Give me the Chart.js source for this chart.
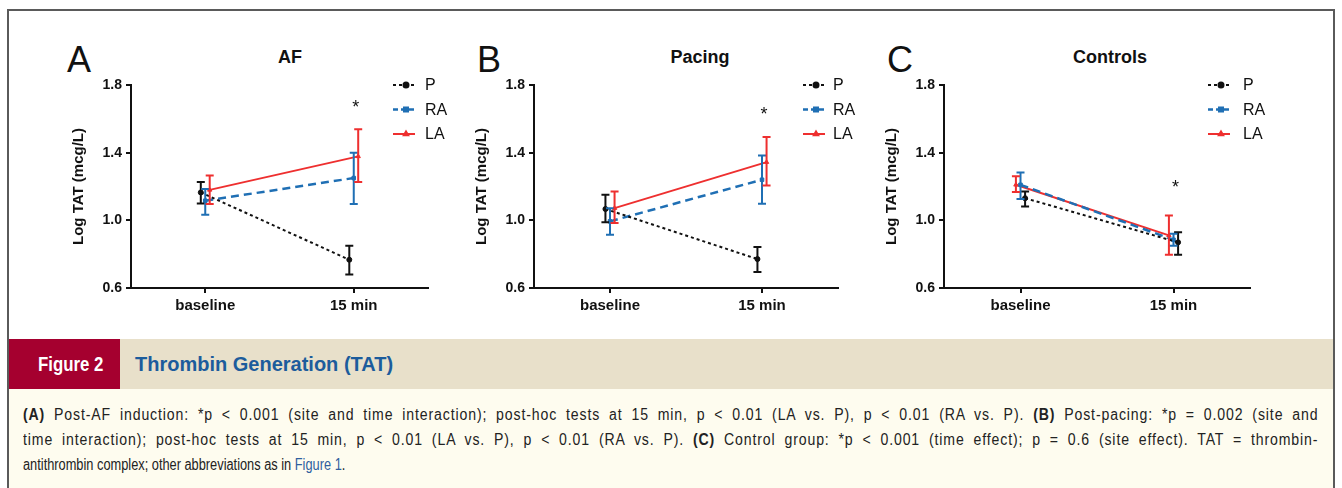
<!DOCTYPE html>
<html>
<head>
<meta charset="utf-8">
<script src="https://cdn.jsdelivr.net/npm/chart.js@4.4.1/dist/chart.umd.min.js"></script>
<style>
  body { margin:0; width:1342px; height:488px; overflow:hidden; background:#fff; position:relative;
         font-family:'Liberation Sans', Arial, sans-serif; }
  .frame { position:absolute; left:7px; top:9px; width:1328px; height:520px; border:2px solid #5a5a5a; box-sizing:border-box; }
  .letter { position:absolute; top:42px; font-size:36px; line-height:36px; color:#111; }
  .title  { position:absolute; top:48px; width:240px; text-align:center; font-weight:bold; font-size:18px; line-height:18px; color:#111; }
  canvas { position:absolute; }
  .head { position:absolute; left:9px; top:339px; width:1324px; height:50px; background:#e8e0ca;
          font-weight:bold; font-size:20px; line-height:50px; }
  .fig-no { position:absolute; left:0; top:0; width:111px; height:50px; background:#a5002f; color:#fff; }
  .fig-no span { position:absolute; left:29px; top:0; transform:scaleX(0.84); transform-origin:0 0; white-space:nowrap; }
  .fig-title { position:absolute; left:126px; top:0; color:#1c5c9c; }
  .caption { position:absolute; left:9px; top:389px; width:1324px; height:110px; background:#fefcef;
             box-sizing:border-box; padding:13px 0 0 14px; overflow:hidden;
             font-size:16px; line-height:25px; color:#222; }
  .caption div { white-space:nowrap; transform-origin:0 0; }
  .caption .just { width:1472px; transform:scaleX(0.88); text-align:justify; text-align-last:justify; letter-spacing:1px; }
  .caption .last { width:1600px; transform:scaleX(0.80); }
  .link { color:#2f5f9f; }
</style>
</head>
<body>
<div class="frame"></div>

<div class="letter" style="left:67px">A</div>
<div class="letter" style="left:477px">B</div>
<div class="letter" style="left:887px">C</div>
<div class="title" style="left:170px">AF</div>
<div class="title" style="left:580px">Pacing</div>
<div class="title" style="left:990px">Controls</div>

<canvas id="chartAF" width="400" height="248" style="left:60px;top:70px"></canvas>
<canvas id="chartPacing" width="407" height="248" style="left:463px;top:70px"></canvas>
<canvas id="chartControls" width="417" height="248" style="left:873px;top:70px"></canvas>

<div class="head">
  <div class="fig-no"><span>Figure 2</span></div>
  <div class="fig-title">Thrombin Generation (TAT)</div>
</div>
<div class="caption">
  <div class="just"><b>(A)</b> Post-AF induction: *p &lt; 0.001 (site and time interaction); post-hoc tests at 15 min, p &lt; 0.01 (LA vs. P), p &lt; 0.01 (RA vs. P). <b>(B)</b> Post-pacing: *p = 0.002 (site and</div>
  <div class="just">time interaction); post-hoc tests at 15 min, p &lt; 0.01 (LA vs. P), p &lt; 0.01 (RA vs. P). <b>(C)</b> Control group: *p &lt; 0.001 (time effect); p = 0.6 (site effect). TAT = thrombin-</div>
  <div class="last">antithrombin complex; other abbreviations as in <span class="link">Figure 1</span>.</div>
</div>

<script>
// Categories, series and tick labels
const stages = ['baseline', '15 min'];
const seriesNames = ['P', 'RA', 'LA'];
const yTicks = [0.6, 1.0, 1.4, 1.8];
const yTitle = 'Log TAT (mcg/L)';

// Panel A - AF (mean, lower and upper end of error bar)
const afP    = [1.165, 0.767], afPLo  = [1.100, 0.680], afPHi  = [1.226, 0.850];
const afRA   = [1.116, 1.250], afRALo = [1.033, 1.096], afRAHi = [1.185, 1.400];
const afLA   = [1.180, 1.378], afLALo = [1.096, 1.226], afLAHi = [1.265, 1.539];
const afStar = 1.68;

// Panel B - Pacing
const paP    = [1.067, 0.771], paPLo  = [0.988, 0.694], paPHi  = [1.151, 0.842];
const paRA   = [0.994, 1.240], paRALo = [0.915, 1.098], paRAHi = [1.072, 1.383];
const paLA   = [1.072, 1.344], paLALo = [0.984, 1.206], paLAHi = [1.170, 1.492];
const paStar = 1.643;

// Panel C - Controls
const coP    = [1.131, 0.870], coPLo  = [1.082, 0.797], coPHi  = [1.171, 0.929];
const coRA   = [1.210, 0.885], coRALo = [1.126, 0.850], coRAHi = [1.283, 0.920];
const coLA   = [1.210, 0.911], coLALo = [1.167, 0.797], coLAHi = [1.260, 1.029];
const coStar = 1.21;

// Styling per series
const colors  = ['#111111', '#1f6fb4', '#ee2f2f'];
const dashes  = [[3, 3], [8, 5], []];
const keyDash = [[3, 3], [5, 3], []];
const markers = ['circle', 'rect', 'triangle'];
const widths  = [2, 2.5, 2];
const FONT = "'Liberation Sans', Arial, sans-serif";

// Vertical error bars with caps, drawn through the chart's own scales
const errorBars = {
  id: 'errorBars',
  afterDatasetsDraw(chart) {
    const { ctx, scales: { x, y } } = chart;
    chart.data.datasets.forEach(ds => {
      ctx.save();
      ctx.strokeStyle = ds.borderColor;
      ctx.lineWidth = 2;
      ds.data.forEach((pt, j) => {
        const px = x.getPixelForValue(pt.x);
        const top = y.getPixelForValue(ds.hi[j]);
        const bot = y.getPixelForValue(ds.lo[j]);
        ctx.beginPath();
        ctx.moveTo(px, top); ctx.lineTo(px, bot);
        ctx.moveTo(px - 4, top); ctx.lineTo(px + 4, top);
        ctx.moveTo(px - 4, bot); ctx.lineTo(px + 4, bot);
        ctx.stroke();
      });
      ctx.restore();
    });
  }
};

// Significance asterisk above the 15 min group
const star = {
  id: 'star',
  afterDraw(chart, args, opts) {
    const { ctx, scales: { x, y } } = chart;
    ctx.save();
    ctx.fillStyle = '#111';
    ctx.font = '18px ' + FONT;
    ctx.textAlign = 'center';
    ctx.textBaseline = 'middle';
    ctx.fillText('*', x.getPixelForValue(1) + 2, y.getPixelForValue(opts.value) + 3);
    ctx.restore();
  }
};

// Legend in the upper right: line sample with marker, then label
const seriesKey = {
  id: 'seriesKey',
  afterDraw(chart, args, opts) {
    const { ctx, chartArea } = chart;
    chart.data.datasets.forEach((ds, k) => {
      const x0 = chartArea.right + opts.lineX;
      const y0 = chartArea.top + k * 24.5;
      ctx.save();
      ctx.strokeStyle = ds.borderColor;
      ctx.fillStyle = ds.borderColor;
      ctx.lineWidth = ds.borderWidth;
      ctx.setLineDash(keyDash[k]);
      ctx.beginPath();
      ctx.moveTo(x0, y0); ctx.lineTo(x0 + 22, y0);
      ctx.stroke();
      ctx.setLineDash([]);
      Chart.helpers.drawPoint(ctx, { pointStyle: ds.pointStyle, radius: 2.5, borderWidth: 1, rotation: 0 }, x0 + 13, y0);
      ctx.fillStyle = '#111';
      ctx.font = '16px ' + FONT;
      ctx.textBaseline = 'middle';
      ctx.fillText(ds.label, chartArea.right + opts.textX, y0 + 1);
      ctx.restore();
    });
  }
};

function makePanel(id, means, los, his, dodge, starValue, rightPad, lineX, textX) {
  const datasets = seriesNames.map((name, k) => ({
    label: name,
    data: stages.map((_, i) => ({ x: i + dodge[k], y: means[k][i] })),
    lo: los[k],
    hi: his[k],
    borderColor: colors[k],
    backgroundColor: colors[k],
    borderDash: dashes[k],
    borderWidth: widths[k],
    pointStyle: markers[k],
    pointRadius: 2.5,
    pointBorderWidth: 1,
    tension: 0
  }));

  const tickFont = { family: FONT, size: 14, weight: 'bold' };
  new Chart(document.getElementById(id), {
    type: 'line',
    data: { datasets },
    plugins: [errorBars, star, seriesKey],
    options: {
      responsive: false,
      animation: false,
      layout: { padding: { top: 15, right: rightPad, left: 0, bottom: 0 } },
      plugins: {
        legend: { display: false },
        tooltip: { enabled: false },
        star: { value: starValue },
        seriesKey: { lineX, textX }
      },
      scales: {
        x: {
          type: 'linear', min: -0.5, max: 1.5,
          afterBuildTicks: s => { s.ticks = stages.map((_, i) => ({ value: i })); },
          afterFit: s => { s.height = 30; },
          ticks: { callback: v => stages[v], color: '#111', padding: 4,
                   font: { family: FONT, size: 15, weight: 'bold' } },
          grid: { drawOnChartArea: false, tickLength: 5, color: '#111', lineWidth: 2 },
          border: { color: '#111', width: 2 }
        },
        y: {
          min: 0.6, max: 1.8,
          afterBuildTicks: s => { s.ticks = yTicks.map(v => ({ value: v })); },
          afterFit: s => { s.width = 71; },
          ticks: { callback: v => v.toFixed(1), color: '#111', padding: 4, font: tickFont },
          title: { display: true, text: yTitle, color: '#111', padding: { top: 10, bottom: 0 },
                   font: { family: FONT, size: 15, weight: 'bold' } },
          grid: { drawOnChartArea: false, tickLength: 5, color: '#111', lineWidth: 2 },
          border: { color: '#111', width: 2 }
        }
      }
    }
  });
}

makePanel('chartAF',
  [afP, afRA, afLA], [afPLo, afRALo, afLALo], [afPHi, afRAHi, afLAHi],
  [-0.03, 0, 0.03], afStar, 32, -35, -3);
makePanel('chartPacing',
  [paP, paRA, paLA], [paPLo, paRALo, paLALo], [paPHi, paRAHi, paLAHi],
  [-0.03, 0, 0.03], paStar, 32, -35, -5);
makePanel('chartControls',
  [coP, coRA, coLA], [coPLo, coRALo, coLALo], [coPHi, coRAHi, coLAHi],
  [0.03, 0, -0.03], coStar, 40, -42, -7);
</script>
</body>
</html>
